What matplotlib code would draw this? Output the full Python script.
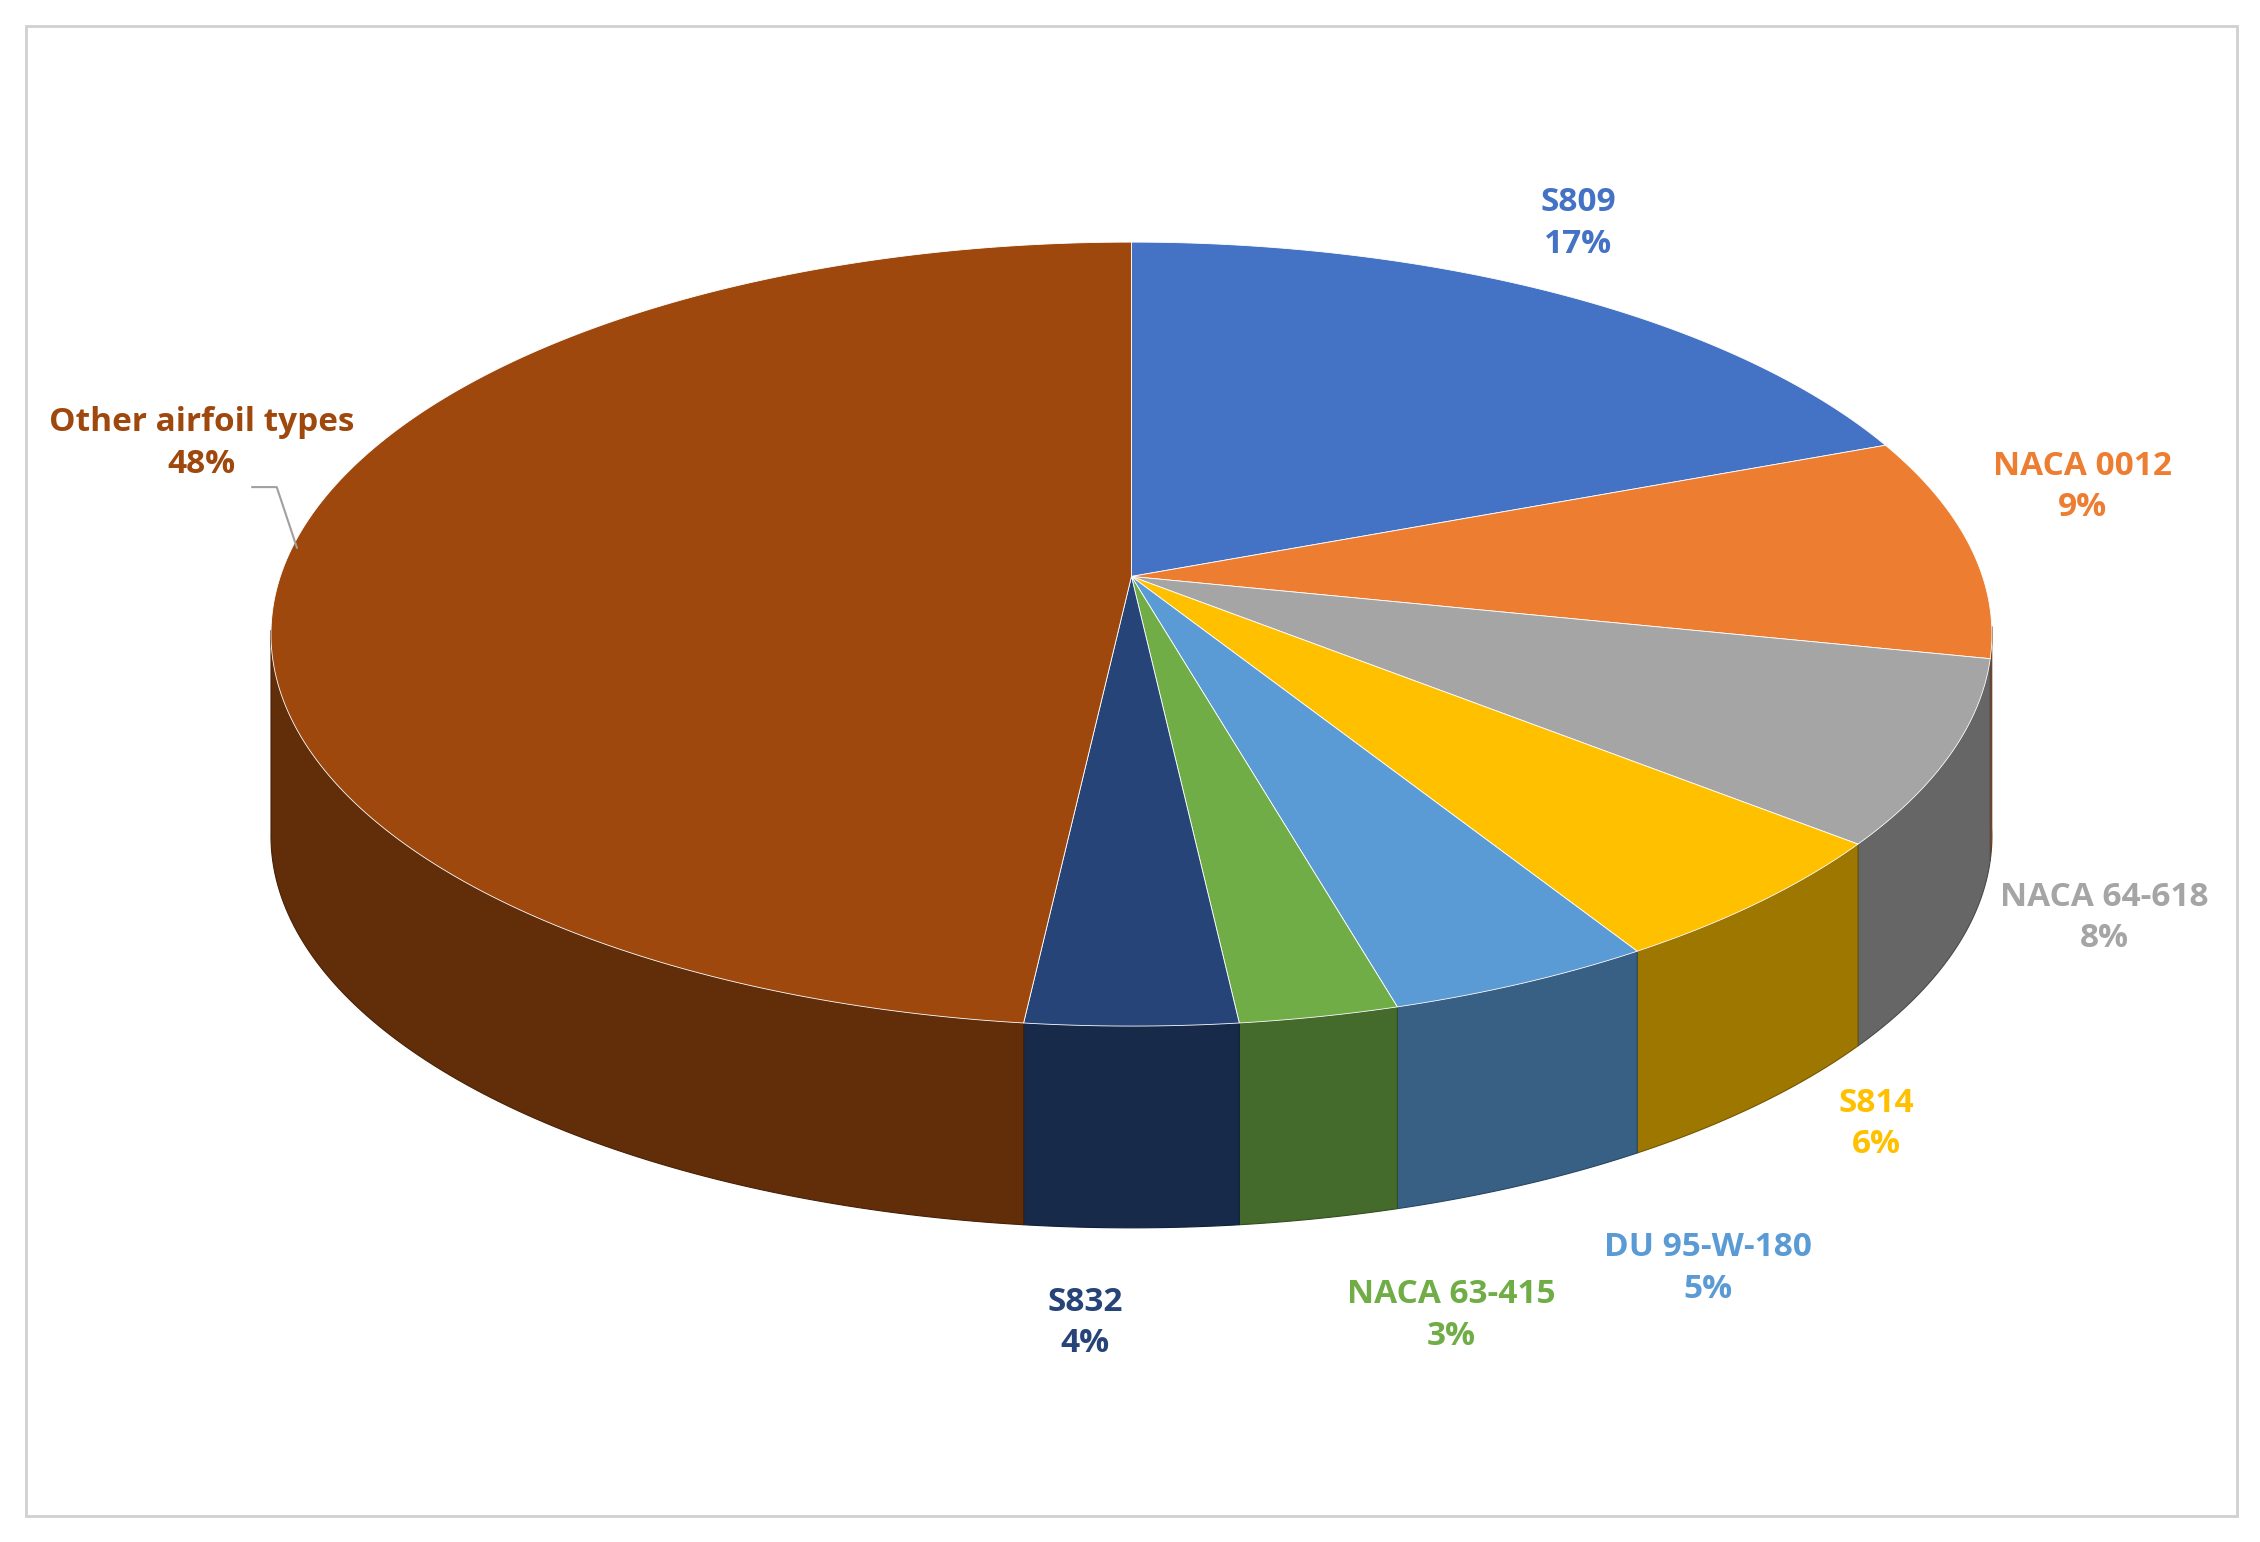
import numpy as np
import matplotlib.pyplot as plt
from matplotlib.patches import Polygon, Rectangle
import matplotlib.colors as mc

labels = ['S809', 'NACA 0012', 'NACA 64-618', 'S814', 'DU 95-W-180',
          'NACA 63-415', 'S832', 'Other airfoil types']
values = [17, 9, 8, 6, 5, 3, 4, 48]
colors = ['#4472C4', '#ED7D31', '#A5A5A5', '#FFC000', '#5B9BD5',
          '#70AD47', '#264478', '#9E480E']
label_pos = [(1095, 155), (1445, 338), (1460, 637), (1302, 780), (1185, 880),
             (1007, 913), (753, 918), (140, 308)]

W, H = 1568, 1070
cx, cy, rx, ry, depth = 785, 440, 597, 272, 140

fig = plt.figure(figsize=(22.6, 15.42), dpi=100)
ax = fig.add_axes([0, 0, 1, 1])
ax.set_xlim(0, W)
ax.set_ylim(H, 0)
ax.axis('off')
ax.add_patch(Rectangle((18, 18), 1534, 1034, fill=False, ec='#d0d0d0', lw=2))

def pt(t, dy=0):
    return cx + rx * np.cos(t), cy - ry * np.sin(t) + dy

def darker(c, f):
    r, g, b = mc.to_rgb(c)
    return (r * f, g * f, b * f)

# angles, clockwise from top
edges = np.pi / 2 - 2 * np.pi * np.concatenate([[0], np.cumsum(values)]) / 100.0

# side walls (front half only)
for i in range(len(values)):
    ts = np.linspace(edges[i], edges[i + 1], 200)
    ts = ts[np.sin(ts) <= 0.02]
    if len(ts) < 2:
        continue
    top = [pt(t) for t in ts]
    bot = [pt(t, depth) for t in ts[::-1]]
    ax.add_patch(Polygon(top + bot, closed=True, fc=darker(colors[i], 0.62),
                         ec=darker(colors[i], 0.45), lw=0.8))

# top faces
for i in range(len(values)):
    ts = np.linspace(edges[i], edges[i + 1], 200)
    poly = [(cx, cy - 40)] + [pt(t) for t in ts]
    ax.add_patch(Polygon(poly, closed=True, fc=colors[i], ec='white', lw=0.6))

for i, (x, y) in enumerate(label_pos):
    ax.text(x, y, f'{labels[i]}\n{values[i]}%', ha='center', va='center',
            color=colors[i], fontsize=24, fontweight='bold', linespacing=1.35,
            family='Open Sans')

ax.plot([175, 192, 206], [338, 338, 380], color='#a0a0a0', lw=1.5)

fig.savefig('out.png', dpi=100)
